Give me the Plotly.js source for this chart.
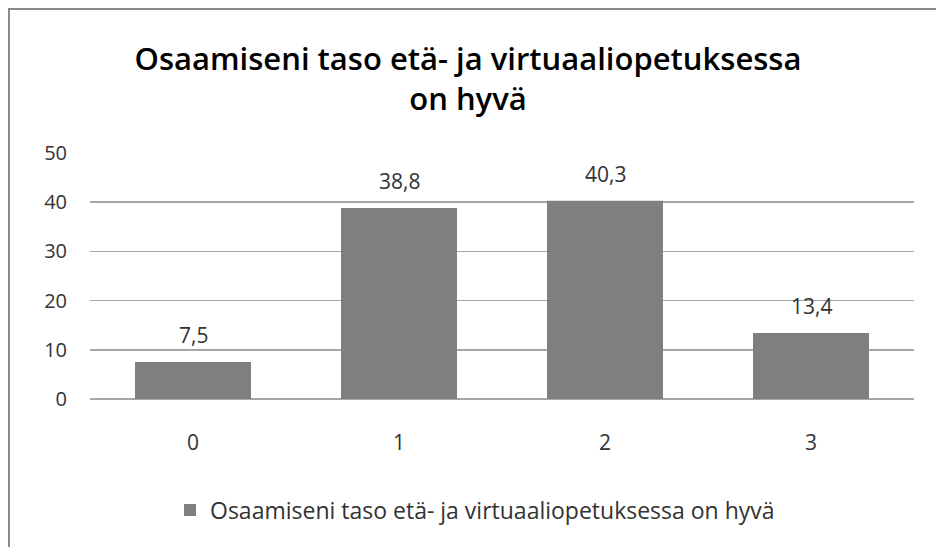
<!DOCTYPE html>
<html>
<head>
<meta charset="utf-8">
<script src="https://cdn.plot.ly/plotly-3.0.1.min.js"></script>
<style>
  html, body { margin: 0; padding: 0; background: #fff; }
  #wrap { position: relative; width: 936px; height: 547px; overflow: hidden; }
  #chart { position: absolute; left: 0; top: 0; width: 936px; height: 547px; }
  #frame { position: absolute; left: 8px; top: 8px; width: 940px; height: 560px;
           border-left: 2px solid #8a8a8a; border-top: 2px solid #8a8a8a; pointer-events: none; }
</style>
</head>
<body>
<div id="wrap">
  <div id="chart"></div>
  <div id="frame"></div>
</div>
<script>
const categories = ["0", "1", "2", "3"];
const values = [7.5, 38.8, 40.3, 13.4];
const seriesName = "Osaamiseni taso etä- ja virtuaaliopetuksessa on hyvä";
const chartTitle = "Osaamiseni taso etä- ja virtuaaliopetuksessa<br>on hyvä";
const yTicks = [0, 10, 20, 30, 40, 50];

const textFont = "Open Sans, Noto Sans, DejaVu Sans, sans-serif";

const trace = {
  type: "bar",
  x: categories,
  y: values,
  name: seriesName,
  marker: { color: "#7f7f7f" },
  showlegend: true,
  hoverinfo: "x+y"
};

const annotations = categories.map((c, i) => ({
  x: c,
  y: values[i],
  xref: "x",
  yref: "y",
  text: String(values[i]).replace(".", ","),
  showarrow: false,
  yanchor: "bottom",
  yshift: 11,
  font: { family: textFont, size: 21, color: "#333333" }
}));

const layout = {
  width: 936,
  height: 547,
  margin: { l: 90, r: 22, t: 153, b: 148 },
  paper_bgcolor: "#ffffff",
  plot_bgcolor: "#ffffff",
  title: {
    text: chartTitle,
    x: 0.5,
    xanchor: "center",
    y: 1 - 70 / 547,
    yanchor: "top",
    font: { family: "Open Sans, sans-serif", size: 31, color: "#000000", weight: 600 }
  },
  bargap: 0.437,
  xaxis: {
    type: "category",
    tickfont: { family: textFont, size: 21, color: "#333333" },
    showgrid: false,
    showline: false,
    zeroline: false,
    ticks: "",
    ticklabelstandoff: 29
  },
  yaxis: {
    range: [0, 50],
    tickvals: yTicks,
    tickfont: { family: textFont, size: 20, color: "#333333" },
    showgrid: true,
    gridcolor: "#a6a6a6",
    gridwidth: 1.5,
    zeroline: true,
    zerolinecolor: "#a6a6a6",
    zerolinewidth: 1.5,
    showline: false,
    ticks: "",
    ticklabelstandoff: 22,
    fixedrange: true
  },
  legend: {
    orientation: "h",
    x: (170 - 90) / 824,
    xanchor: "left",
    y: (399 - 510) / 246,
    yanchor: "middle",
    font: { family: textFont, size: 23, color: "#333333" }
  },
  annotations: annotations,
  showlegend: true
};

Plotly.newPlot("chart", [trace], layout, { displayModeBar: false, staticPlot: true });
</script>
</body>
</html>
